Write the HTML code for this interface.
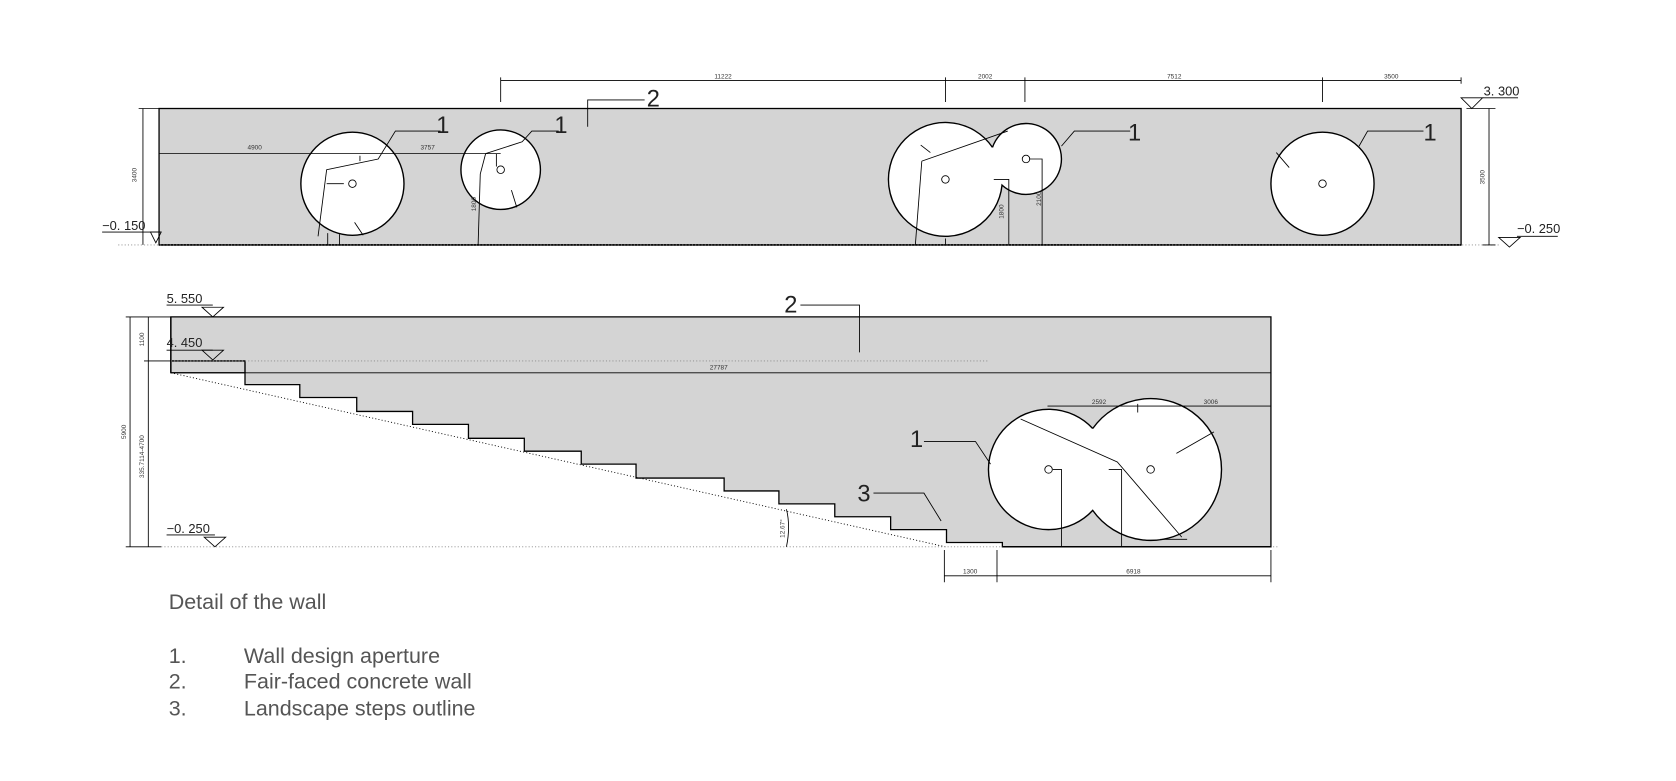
<!DOCTYPE html>
<html><head><meta charset="utf-8"><style>
html,body{margin:0;padding:0;background:#fff;}
svg{display:block;}
.t{font-family:"Liberation Sans",sans-serif;}
</style></head><body>
<svg width="1676" height="781" viewBox="0 0 1560 727" xmlns="http://www.w3.org/2000/svg">
<defs>
<mask id="m1" maskUnits="userSpaceOnUse" x="0" y="0" width="1560" height="727"><rect x="0" y="0" width="1560" height="727" fill="#fff"/>
<circle cx="328" cy="171" r="48" fill="#000"/><circle cx="466" cy="158" r="37" fill="#000"/>
<circle cx="880" cy="167" r="53" fill="#000"/><circle cx="955" cy="148" r="33" fill="#000"/>
<circle cx="1231" cy="171" r="48" fill="#000"/>
<circle cx="1071" cy="437" r="66" fill="#000"/><circle cx="976" cy="437" r="56" fill="#000"/>
</mask>
</defs>
<!-- TOP WALL -->
<rect x="148" y="101" width="1212" height="127" fill="#d4d4d4" stroke="#000" stroke-width="1.2" mask="url(#m1)"/>
<g fill="none" stroke="#000" stroke-width="1.3">
<circle cx="328" cy="171" r="48"/><circle cx="466" cy="158" r="37"/><circle cx="1231" cy="171" r="48"/>
<path d="M923.8,137.2 A53,53 0 1 0 932.7,172.3 A33,33 0 1 0 923.8,137.2"/>
</g>
<g fill="none" stroke="#000" stroke-width="0.8">
<circle cx="328" cy="171" r="3.5"/><circle cx="466" cy="158" r="3.5"/><circle cx="880" cy="167" r="3.5"/><circle cx="955" cy="148" r="3.5"/><circle cx="1231" cy="171" r="3.5"/>
<path d="M148,228 H1360" stroke-width="1.5"/>
<path d="M110,228 H1395" stroke-dasharray="1,2" stroke="#888"/>
<path d="M466,75 H1360 M466,72 V95 M880,72 V95 M954,72 V95 M1231,72 V95 M1360,72 V78"/>
<path d="M148,143 H466"/>
<path d="M133,101 V228 M129,101 H148 M1386,101 V228 M1365,101 H1392 M1380,228 H1392"/>
<path d="M410,122 H368 L352,148 L304,158 L296,220 M320,171 H304 M335,145 V150 M330,207 L338,219 M305,217 V228 M316,218 V228"/>
<path d="M520,122 H495 L486,132 L452,143 L447,162 L445,228 M462,143 V155 M476,177 L481,193"/>
<path d="M600,93 H547 V118"/>
<path d="M1052,122 H1000 L988,136 M858,150 L938,122 M857,135 L866,142 M858,150 L852,228 M925,167 H939 V228 M958,148 H970 V228 M880,222 V228"/>
<path d="M1325,122 H1273 L1265,136 M1188,142 L1200,156"/>
<path d="M95,216 H150 M1380,91 H1413 M1412,220 H1450"/>
<path d="M140,216 L150,216 L145,226 Z M1360,91 L1380,91 L1370,101 Z M1395,221 L1415,221 L1405,230 Z"/>
</g>
<g class="t" font-size="6" fill="#333" text-anchor="middle">
<text x="673" y="73">11222</text><text x="917" y="73">2002</text><text x="1093" y="73">7512</text><text x="1295" y="73">3500</text>
<text x="237" y="139">4900</text><text x="398" y="139">3757</text>
<text transform="translate(127,163) rotate(-90)">3400</text><text transform="translate(1382,165) rotate(-90)">3500</text>
<text transform="translate(934,197) rotate(-90)">1800</text><text transform="translate(969,185) rotate(-90)">2100</text>
<text transform="translate(443,190) rotate(-90)">1800</text>
</g>
<g class="t" fill="#222">
<text x="406" y="124" font-size="22">1</text><text x="516" y="124" font-size="22">1</text>
<text x="602" y="99" font-size="22">2</text><text x="1050" y="131" font-size="22">1</text><text x="1325" y="131" font-size="22">1</text>
<text x="95" y="214" font-size="12">−0. 150</text><text x="1381" y="89" font-size="12">3. 300</text><text x="1412" y="217" font-size="12">−0. 250</text>
</g>
<!-- BOTTOM WALL -->
<path d="M159,295 H1183 V509 H933 V505 H881 V493 H829 V481 H777 V469 H725 V457 H674 V445 H592 V432 H541 V420 H488 V408 H436 V395 H384 V383 H332 V370 H279 V358 H228 V347 H159 Z" fill="#d4d4d4" stroke="#000" stroke-width="1.2" mask="url(#m1)"/>
<path d="M1017.1,398.9 A56,56 0 1 0 1017.1,475.1 A66,66 0 1 0 1017.1,398.9" fill="none" stroke="#000" stroke-width="1.3"/>
<path d="M159,336 H228 V347 M159,295 V347" fill="none" stroke="#000" stroke-width="1.3"/>
<g fill="none" stroke="#000" stroke-width="0.8">
<circle cx="976" cy="437" r="3.5"/><circle cx="1071" cy="437" r="3.5"/>
<path d="M159,347 H1183"/>
<path d="M159,336 H920" stroke-dasharray="1,2" stroke="#888"/>
<path d="M159,347 L880,509" stroke-dasharray="1,2"/>
<path d="M150,509 H1190" stroke-dasharray="1,2" stroke="#888"/>
<path d="M933,509 H1183" stroke-width="1.4"/>
<path d="M121,295 V509 M117,295 H159 M138,295 V509 M134,336 H159 M117,509 H150"/>
<path d="M879,536 H1183 M879,512 V542 M928,512 V542 M1183,512 V542"/>
<path d="M975,378 H1183 M1059,376 V384"/>
<path d="M980,437 H988 V509 M1032,437 H1044 V509 M950,390 L1040,430 L1100,500 M1095,422 L1130,402 M1080,502 H1105"/>
<path d="M745,284 H800 V328 M860,411 H908 L922,432 M813,459 H860 L876,485"/>
<path d="M732,474 Q736,490 732,509"/>
<path d="M155,284 H198 M155,326 H198 M155,498 H200"/>
<path d="M188,286 L208,286 L198,295 Z M188,326 L208,326 L198,335 Z M190,500 L210,500 L200,509 Z"/>
</g>
<g class="t" font-size="6" fill="#333" text-anchor="middle">
<text x="669" y="344">27787</text><text x="903" y="534">1300</text><text x="1055" y="534">6918</text>
<text x="1023" y="376">2592</text><text x="1127" y="376">3006</text>
<text transform="translate(117,402) rotate(-90)">5900</text>
<text transform="translate(134,425) rotate(-90)">335.7114-4700</text><text transform="translate(134,316) rotate(-90)">1100</text>
<text transform="translate(730,492) rotate(-90)">12.67°</text>
</g>
<g class="t" fill="#222">
<text x="730" y="291" font-size="22">2</text><text x="847" y="416" font-size="22">1</text><text x="798" y="467" font-size="22">3</text>
<text x="155" y="282" font-size="12">5. 550</text><text x="155" y="323" font-size="12">4. 450</text><text x="155" y="496" font-size="12">−0. 250</text>
</g>
<g class="t" fill="#555" font-size="20">
<text x="157" y="567">Detail of the wall</text>
<text x="157" y="617">1.</text><text x="227" y="617">Wall design aperture</text>
<text x="157" y="641">2.</text><text x="227" y="641">Fair-faced concrete wall</text>
<text x="157" y="666">3.</text><text x="227" y="666">Landscape steps outline</text>
</g>
</svg>
</body></html>
